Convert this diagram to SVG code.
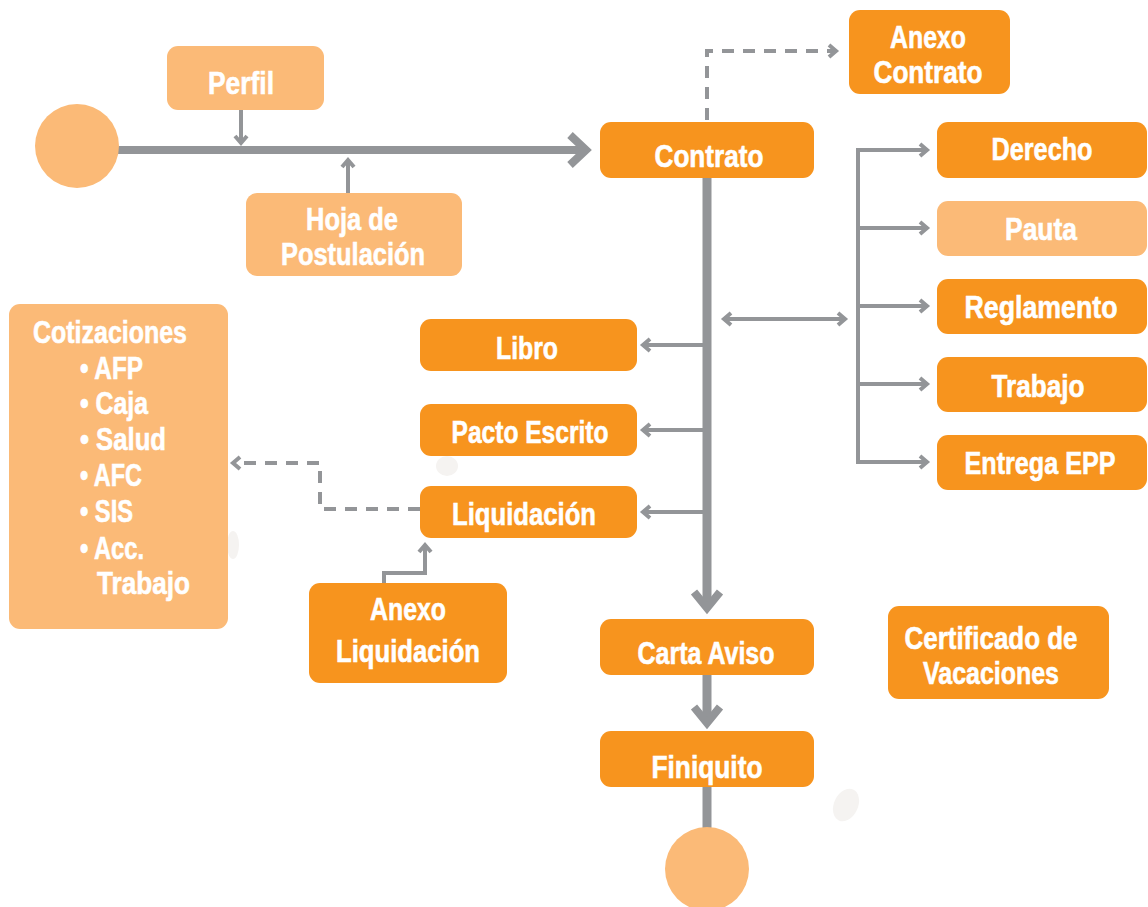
<svg xmlns="http://www.w3.org/2000/svg" width="1148" height="907" viewBox="0 0 1148 907">
<defs>
<style>
.dk{fill:#F7941E}
.lt{fill:#FBBA77}
.t{font-family:"Liberation Sans",Arial,sans-serif;font-weight:bold;font-size:31px;fill:#fff;stroke:#fff;stroke-width:0.6;text-anchor:middle}
.tl{font-family:"Liberation Sans",Arial,sans-serif;font-weight:bold;font-size:31px;fill:#fff;stroke:#fff;stroke-width:0.6}
.thin{fill:none;stroke:#939598;stroke-width:4}
.dash{fill:none;stroke:#939598;stroke-width:4;stroke-dasharray:12 9}
.chev{fill:none;stroke:#939598;stroke-width:4;stroke-linejoin:miter}
.chevB{fill:none;stroke:#939598;stroke-width:8;stroke-linejoin:miter}
.thick{fill:none;stroke:#939598;stroke-width:8}
.drop{fill:#f5f3f1}
</style>
</defs>
<rect width="1148" height="907" fill="#fff"/>
<ellipse class="drop" cx="447" cy="466" rx="11" ry="10"/>
<ellipse class="drop" cx="846" cy="805" rx="12" ry="17" transform="rotate(25 846 805)"/>
<ellipse class="drop" cx="233" cy="545" rx="6" ry="14"/>

<g id="connectors">
  <line class="thick" x1="118" y1="150" x2="584" y2="150"/>
  <polyline class="chevB" points="570,135 586,150 570,165"/>
  <line class="thin" x1="241" y1="110" x2="241" y2="143"/>
  <polyline class="chev" points="235,136 241,143 247,136"/>
  <line class="thin" x1="348" y1="193" x2="348" y2="160"/>
  <polyline class="chev" points="342,167 348,160 354,167"/>
  <polyline class="dash" points="707,120 707,51 835,51"/>
  <polyline class="chev" points="829,45 836,51 829,57"/>
  <line x1="707" y1="178" x2="707" y2="606" stroke="#939598" stroke-width="9"/>
  <polyline class="chevB" points="694,592 707,608 720,592"/>
  <line class="thin" x1="707" y1="345" x2="643" y2="345"/>
  <polyline class="chev" points="650,339 643,345 650,351"/>
  <line class="thin" x1="707" y1="430" x2="643" y2="430"/>
  <polyline class="chev" points="650,424 643,430 650,436"/>
  <line class="thin" x1="707" y1="512" x2="643" y2="512"/>
  <polyline class="chev" points="650,506 643,512 650,518"/>
  <line class="thin" x1="724" y1="319" x2="845" y2="319"/>
  <polyline class="chev" points="731,313 724,319 731,325"/>
  <polyline class="chev" points="838,313 845,319 838,325"/>
  <polyline class="thin" points="927,150 858,150 858,462 927,462"/>
  <line class="thin" x1="858" y1="228" x2="927" y2="228"/>
  <line class="thin" x1="858" y1="306" x2="927" y2="306"/>
  <line class="thin" x1="858" y1="384" x2="927" y2="384"/>
  <polyline class="chev" points="920,144 927,150 920,156"/>
  <polyline class="chev" points="920,222 927,228 920,234"/>
  <polyline class="chev" points="920,300 927,306 920,312"/>
  <polyline class="chev" points="920,378 927,384 920,390"/>
  <polyline class="chev" points="920,456 927,462 920,468"/>
  <polyline class="dash" points="420,509 320,509 320,463 234,463"/>
  <polyline class="chev" points="240,457 233,463 240,469"/>
  <polyline class="thin" points="384,583 384,573 425,573 425,545"/>
  <polyline class="chev" points="419,552 425,545 431,552"/>
  <line x1="707" y1="675" x2="707" y2="722" stroke="#939598" stroke-width="9"/>
  <polyline class="chevB" points="694,707 707,723 720,707"/>
  <line x1="707" y1="787" x2="707" y2="832" stroke="#939598" stroke-width="9"/>
</g>

<g id="start"><circle class="lt" cx="77" cy="146" r="42"/></g>
<g id="end"><circle class="lt" cx="707" cy="869" r="42"/></g>

<g id="perfil"><rect class="lt" x="167" y="46" width="157" height="64" rx="11"/>
<text class="t" x="241" y="94" textLength="66" lengthAdjust="spacingAndGlyphs">Perfil</text></g>

<g id="hoja"><rect class="lt" x="246" y="193" width="216" height="83" rx="11"/>
<text class="t" x="352" y="230" textLength="92" lengthAdjust="spacingAndGlyphs">Hoja de</text>
<text class="t" x="353" y="265" textLength="144" lengthAdjust="spacingAndGlyphs">Postulación</text></g>

<g id="contrato"><rect class="dk" x="600" y="122" width="214" height="56" rx="11"/>
<text class="t" x="709" y="167" textLength="109" lengthAdjust="spacingAndGlyphs">Contrato</text></g>

<g id="anexo-contrato"><rect class="dk" x="849" y="10" width="161" height="84" rx="11"/>
<text class="t" x="928" y="48" textLength="76" lengthAdjust="spacingAndGlyphs">Anexo</text>
<text class="t" x="928" y="83" textLength="109" lengthAdjust="spacingAndGlyphs">Contrato</text></g>

<g id="derecho"><rect class="dk" x="937" y="122" width="210" height="56" rx="11"/>
<text class="t" x="1042" y="160" textLength="101" lengthAdjust="spacingAndGlyphs">Derecho</text></g>

<g id="pauta"><rect class="lt" x="937" y="201" width="210" height="55" rx="11"/>
<text class="t" x="1041" y="240" textLength="72" lengthAdjust="spacingAndGlyphs">Pauta</text></g>

<g id="reglamento"><rect class="dk" x="937" y="279" width="210" height="55" rx="11"/>
<text class="t" x="1041" y="318" textLength="153" lengthAdjust="spacingAndGlyphs">Reglamento</text></g>

<g id="trabajo"><rect class="dk" x="937" y="357" width="210" height="55" rx="11"/>
<text class="t" x="1038" y="397" textLength="93" lengthAdjust="spacingAndGlyphs">Trabajo</text></g>

<g id="entrega"><rect class="dk" x="937" y="435" width="210" height="55" rx="11"/>
<text class="t" x="1040" y="474" textLength="151" lengthAdjust="spacingAndGlyphs">Entrega EPP</text></g>

<g id="libro"><rect class="dk" x="420" y="319" width="217" height="52" rx="11"/>
<text class="t" x="527" y="359" textLength="62" lengthAdjust="spacingAndGlyphs">Libro</text></g>

<g id="pacto"><rect class="dk" x="420" y="404" width="217" height="52" rx="11"/>
<text class="t" x="530" y="443" textLength="157" lengthAdjust="spacingAndGlyphs">Pacto Escrito</text></g>

<g id="liquidacion"><rect class="dk" x="420" y="486" width="217" height="52" rx="11"/>
<text class="t" x="524" y="525" textLength="144" lengthAdjust="spacingAndGlyphs">Liquidación</text></g>

<g id="anexo-liquidacion"><rect class="dk" x="309" y="583" width="198" height="100" rx="11"/>
<text class="t" x="408" y="620" textLength="76" lengthAdjust="spacingAndGlyphs">Anexo</text>
<text class="t" x="408" y="662" textLength="144" lengthAdjust="spacingAndGlyphs">Liquidación</text></g>

<g id="cotizaciones"><rect class="lt" x="9" y="304" width="219" height="325" rx="11"/>
<text class="t" x="110" y="343" textLength="154" lengthAdjust="spacingAndGlyphs">Cotizaciones</text>
<text class="tl" x="80" y="379" textLength="63" lengthAdjust="spacingAndGlyphs">• AFP</text>
<text class="tl" x="80" y="414" textLength="68" lengthAdjust="spacingAndGlyphs">• Caja</text>
<text class="tl" x="80" y="450" textLength="86" lengthAdjust="spacingAndGlyphs">• Salud</text>
<text class="tl" x="80" y="486" textLength="62" lengthAdjust="spacingAndGlyphs">• AFC</text>
<text class="tl" x="80" y="522" textLength="53" lengthAdjust="spacingAndGlyphs">• SIS</text>
<text class="tl" x="80" y="559" textLength="64" lengthAdjust="spacingAndGlyphs">• Acc.</text>
<text class="tl" x="97" y="594" textLength="93" lengthAdjust="spacingAndGlyphs">Trabajo</text></g>

<g id="carta"><rect class="dk" x="600" y="619" width="214" height="56" rx="11"/>
<text class="t" x="706" y="664" textLength="137" lengthAdjust="spacingAndGlyphs">Carta Aviso</text></g>

<g id="finiquito"><rect class="dk" x="600" y="731" width="214" height="56" rx="11"/>
<text class="t" x="707" y="778" textLength="111" lengthAdjust="spacingAndGlyphs">Finiquito</text></g>

<g id="certificado"><rect class="dk" x="888" y="606" width="221" height="93" rx="11"/>
<text class="t" x="991" y="649" textLength="173" lengthAdjust="spacingAndGlyphs">Certificado de</text>
<text class="t" x="991" y="684" textLength="136" lengthAdjust="spacingAndGlyphs">Vacaciones</text></g>
</svg>
